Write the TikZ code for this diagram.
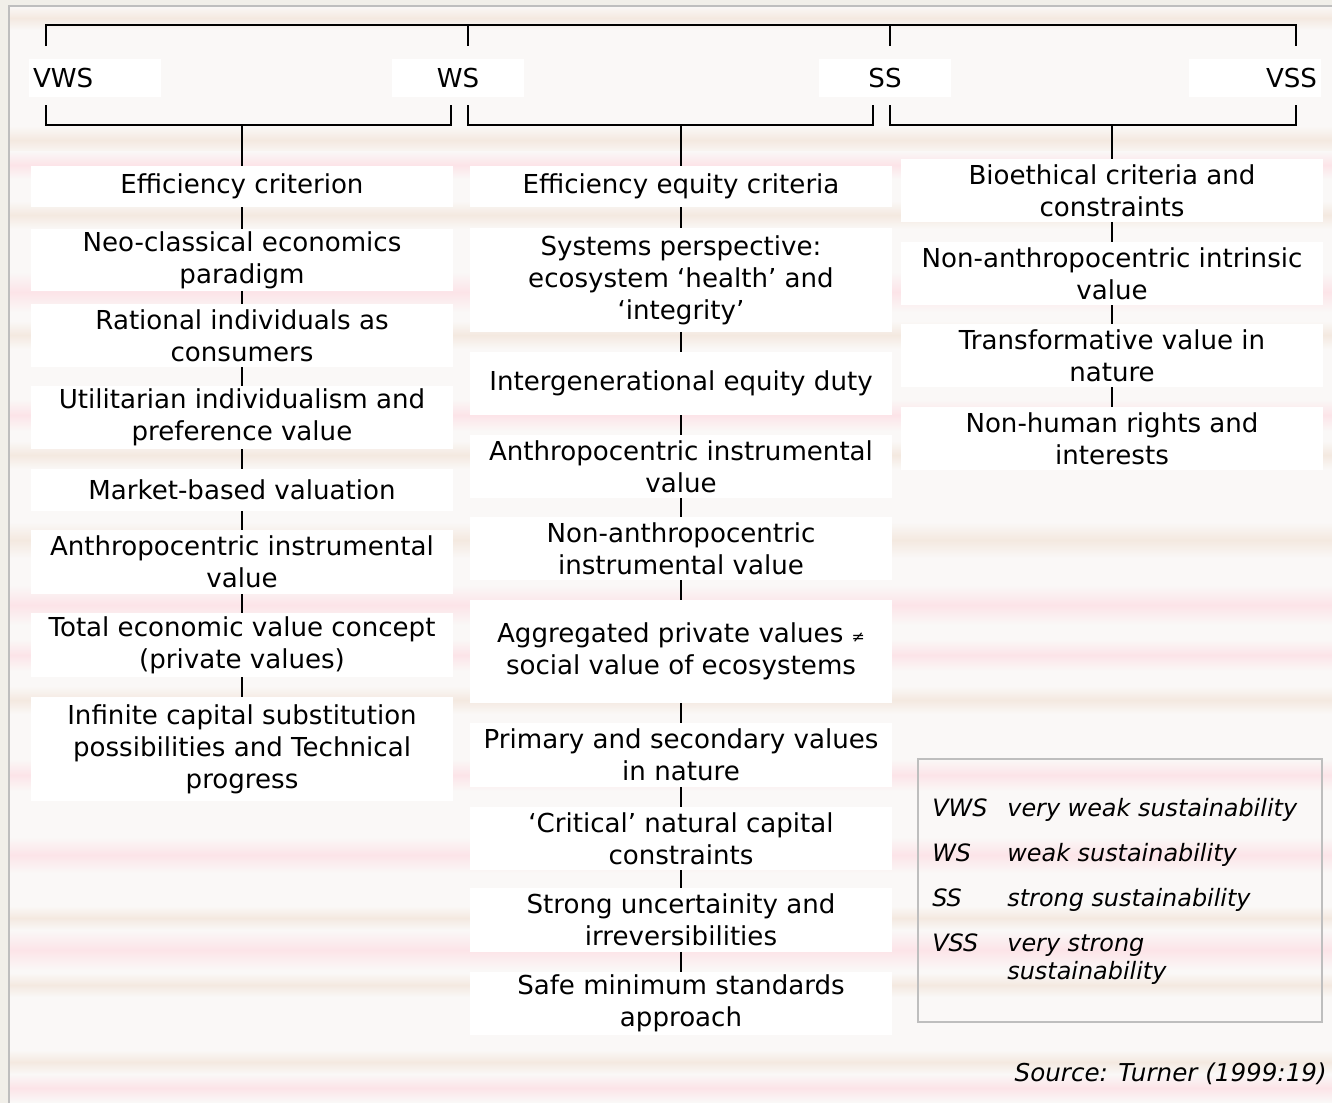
\documentclass[tikz,border=0pt]{standalone}
\usepackage{fontspec}
\setmainfont{DejaVu Sans}
\usepackage{tikz}
\usetikzlibrary{positioning,calc}
\definecolor{bgwhite}{RGB}{250,248,247}
\definecolor{stripepink}{RGB}{252,228,232}
\definecolor{stripebeige}{RGB}{244,233,224}
\definecolor{framegray}{RGB}{190,190,190}
\definecolor{outerbeige}{RGB}{241,239,233}
\newlength{\pxu}
\setlength{\pxu}{0.02cm}
\newcommand{\boxfont}{\fontsize{14.85}{18.2}\selectfont}
\newcommand{\keyfont}{\fontsize{13.6}{12.3}\selectfont\itshape}

\begin{document}
\begin{tikzpicture}[
    x=0.02cm, y=-0.02cm,
    box/.style={rectangle, fill=white, inner sep=0pt, align=center, font=\boxfont, minimum width=422\pxu},
    tag/.style={rectangle, fill=white, inner sep=4\pxu, font=\boxfont, text width=124\pxu, minimum height=38\pxu},
    link/.style={draw=black, line width=1.1pt},
    keytext/.style={font=\keyfont, inner sep=0pt, anchor=base west}
]
\useasboundingbox (0,0) rectangle (1332,1103);

% striped backdrop
\fill[outerbeige] (0,0) rectangle (1332,1103);
\fill[bgwhite] (9,6) rectangle (1332,1103);
\foreach \yc/\hh/\col in {18/12/stripebeige, 140/14/stripebeige, 165/14/stripepink,
    215/14/stripebeige, 292/20/stripepink, 335/14/stripebeige, 415/16/stripepink, 455/14/stripebeige,
    540/18/stripebeige, 605/20/stripepink, 655/16/stripepink, 700/14/stripebeige, 775/16/stripepink,
    855/18/stripepink, 918/12/stripebeige, 950/20/stripepink, 985/12/stripebeige, 1062/12/stripebeige,
    1088/14/stripepink} {
  \shade[top color=bgwhite, bottom color=\col] (9,\yc-\hh) rectangle (1332,\yc);
  \shade[top color=\col, bottom color=bgwhite] (9,\yc) rectangle (1332,\yc+\hh);
}
\draw[framegray, line width=1.2pt] (9,1103) -- (9,6) -- (1332,6);

% top scale and brackets
\draw[link] (46,46) -- (46,25) -- (1296,25) -- (1296,46);
\draw[link] (468,25) -- (468,46);
\draw[link] (890,25) -- (890,46);
\draw[link] (46,105) -- (46,125) -- (451,125) -- (451,105);
\draw[link] (468,105) -- (468,125) -- (873,125) -- (873,105);
\draw[link] (890,105) -- (890,125) -- (1296,125) -- (1296,105);
\coordinate (vwsfoot) at (242,125);
\coordinate (wsfoot) at (681,125);
\coordinate (ssfoot) at (1112,125);

\node[tag, align=left] (vws) at (95,78) {VWS};
\node[tag, align=center] (ws) at (458,78) {WS};
\node[tag, align=center] (ss) at (885,78) {SS};
\node[tag, align=right] (vss) at (1255,78) {VSS};

% weak column
\node[box, minimum height=41\pxu] (eff) at (242,186.5) {Efficiency criterion};
\node[box, minimum height=62\pxu] (neo) at (242,260) {Neo-classical economics\\paradigm};
\node[box, minimum height=63\pxu] (rat) at (242,335.5) {Rational individuals as\\consumers};
\node[box, minimum height=63\pxu] (util) at (242,417.5) {Utilitarian individualism and\\preference value};
\node[box, minimum height=42\pxu] (mkt) at (242,490) {Market-based valuation};
\node[box, minimum height=64\pxu] (anthl) at (242,562) {Anthropocentric instrumental\\value};
\node[box, minimum height=64\pxu] (tev) at (242,645) {Total economic value concept\\(private values)};
\node[box, minimum height=104\pxu] (inf) at (242,749) {Infinite capital substitution\\possibilities and Technical\\progress};

% strong column
\node[box, minimum height=41\pxu] (effeq) at (681,186.5) {Efficiency equity criteria};
\node[box, minimum height=104\pxu] (sys) at (681,280) {Systems perspective:\\ecosystem ‘health’ and\\‘integrity’};
\node[box, minimum height=63\pxu] (intg) at (681,383.5) {Intergenerational equity duty};
\node[box, minimum height=63\pxu] (anthm) at (681,466.5) {Anthropocentric instrumental\\value};
\node[box, minimum height=63\pxu] (nonanth) at (681,548.5) {Non-anthropocentric\\instrumental value};
\node[box, minimum height=103\pxu] (aggr) at (681,651.5) {Aggregated private values {\small≠}\\social value of ecosystems};
\node[box, minimum height=64\pxu] (prim) at (681,755) {Primary and secondary values\\in nature};
\node[box, minimum height=63\pxu] (crit) at (681,838.5) {‘Critical’ natural capital\\constraints};
\node[box, minimum height=64\pxu] (unc) at (681,920) {Strong uncertainity and\\irreversibilities};
\node[box, minimum height=63\pxu] (safe) at (681,1003.5) {Safe minimum standards\\approach};

% very strong column
\node[box, minimum height=63\pxu] (bio) at (1112,190.5) {Bioethical criteria and\\constraints};
\node[box, minimum height=63\pxu] (intr) at (1112,273.5) {Non-anthropocentric intrinsic\\value};
\node[box, minimum height=63\pxu] (trans) at (1112,355.5) {Transformative value in\\nature};
\node[box, minimum height=63\pxu] (rights) at (1112,438.5) {Non-human rights and\\interests};

\draw[link] (vwsfoot) -- (eff);
\draw[link] (eff) -- (neo);
\draw[link] (neo) -- (rat);
\draw[link] (rat) -- (util);
\draw[link] (util) -- (mkt);
\draw[link] (mkt) -- (anthl);
\draw[link] (anthl) -- (tev);
\draw[link] (tev) -- (inf);

\draw[link] (wsfoot) -- (effeq);
\draw[link] (effeq) -- (sys);
\draw[link] (sys) -- (intg);
\draw[link] (intg) -- (anthm);
\draw[link] (anthm) -- (nonanth);
\draw[link] (nonanth) -- (aggr);
\draw[link] (aggr) -- (prim);
\draw[link] (prim) -- (crit);
\draw[link] (crit) -- (unc);
\draw[link] (unc) -- (safe);

\draw[link] (ssfoot) -- (bio);
\draw[link] (bio) -- (intr);
\draw[link] (intr) -- (trans);
\draw[link] (trans) -- (rights);

% key
\node[draw=framegray, line width=0.8pt, inner sep=0pt, minimum width=404\pxu, minimum height=263\pxu] (key) at (1120,890.5) {};
\node[keytext] (kvws) at (932,816) {VWS};
\node[keytext] (dvws) at (1007,816) {very weak sustainability};
\node[keytext] (kws) at (932,861) {WS};
\node[keytext] (dws) at (1007,861) {weak sustainability};
\node[keytext] (kss) at (932,906) {SS};
\node[keytext] (dss) at (1007,906) {strong sustainability};
\node[keytext] (kvss) at (932,951) {VSS};
\node[keytext] (dvss) at (1007,951) {very strong};
\node[keytext] (dvss2) at (1007,979) {sustainability};

\node[font=\fontsize{14}{16}\selectfont\itshape, inner sep=0pt, anchor=base east] (src) at (1327,1081) {Source: Turner (1999:19)};

\end{tikzpicture}
\end{document}
